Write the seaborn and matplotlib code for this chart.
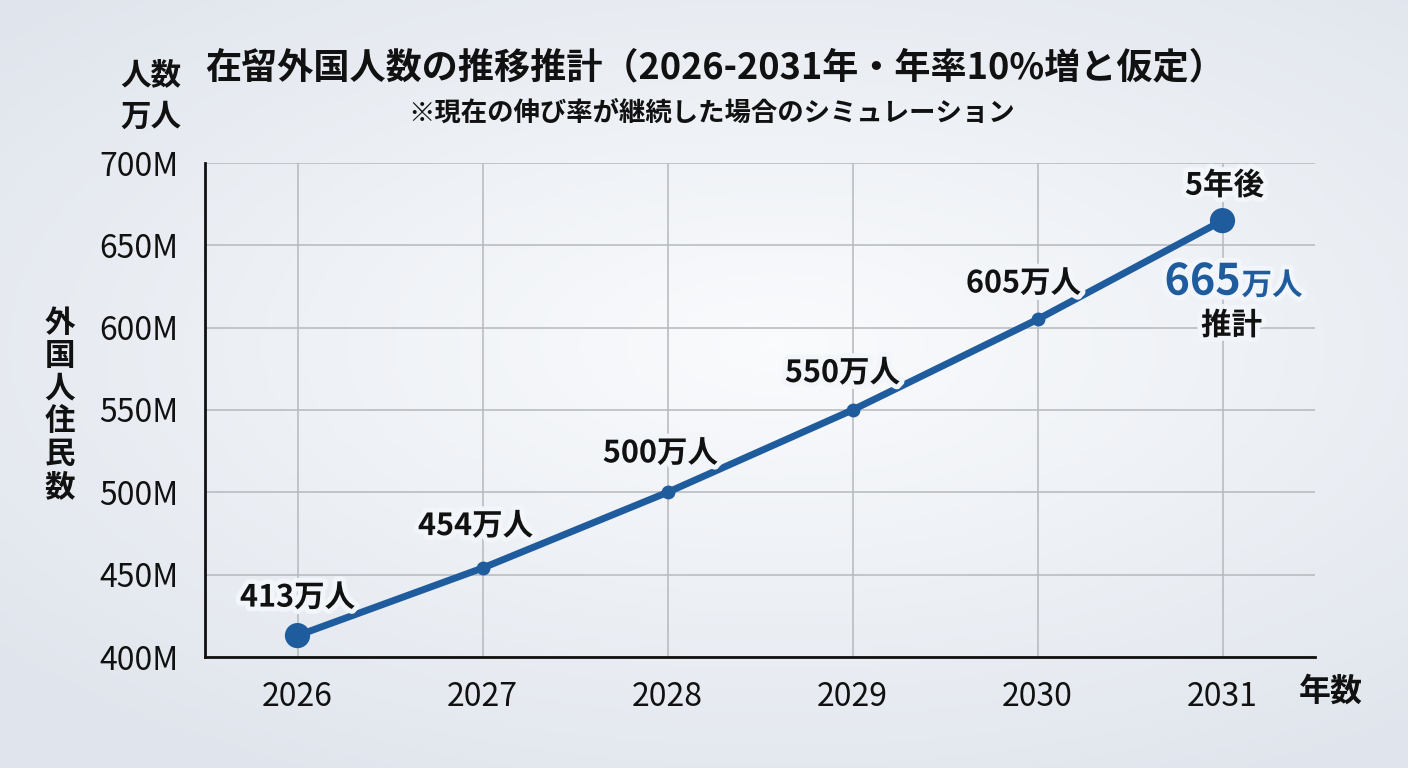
import numpy as np
import pandas as pd
import matplotlib
matplotlib.use("Agg")
import matplotlib.pyplot as plt
import matplotlib.patheffects as pe
import seaborn as sns

years = [2026, 2027, 2028, 2029, 2030, 2031]
values = [413, 454, 500, 550, 605, 665]
point_labels = ["413万人", "454万人", "500万人", "550万人", "605万人", ""]
y_ticks = [400, 450, 500, 550, 600, 650, 700]
y_tick_labels = ["400M", "450M", "500M", "550M", "600M", "650M", "700M"]

title = "在留外国人数の推移推計（2026-2031年・年率10%増と仮定）"
subtitle = "※現在の伸び率が継続した場合のシミュレーション"

sns.set_theme(style="white")
plt.rcParams['font.family'] = ['Noto Sans CJK JP', 'DejaVu Sans']

df = pd.DataFrame({"year": years, "value": values})
line_color = "#1f5c9e"
ink = "#111111"

fig = plt.figure(figsize=(14.08, 7.68), dpi=100)

# background gradient
bg = fig.add_axes([0, 0, 1, 1], zorder=-10)
yy, xx = np.mgrid[0:1:200j, 0:1:360j]
r = np.sqrt(((xx - 0.55) / 0.9) ** 2 + ((yy - 0.55) / 0.8) ** 2)
c_in = np.array([0.98, 0.985, 0.992])
c_out = np.array([0.88, 0.9, 0.93])
t = np.clip(r / 0.8, 0, 1)[..., None]
img = c_in * (1 - t) + c_out * t
bg.imshow(img, aspect='auto', extent=[0, 1, 0, 1], origin='lower')
bg.axis('off')

ax = fig.add_axes([205 / 1408, 1 - 657 / 768, (1315 - 205) / 1408, (657 - 163) / 768])
ax.set_facecolor("none")

sns.lineplot(data=df, x="year", y="value", ax=ax, color=line_color, linewidth=5,
             marker="o", markersize=10, markeredgewidth=0, zorder=3)
ends = df.iloc[[0, -1]]
sns.scatterplot(data=ends, x="year", y="value", ax=ax, color=line_color, s=330,
                edgecolor="none", zorder=4, legend=False)

ax.set_xlim(2025.5, 2031.5)
ax.set_ylim(400, 700)
ax.set_xticks(years)
ax.set_xticklabels([str(y) for y in years])
ax.set_yticks(y_ticks)
ax.set_yticklabels(y_tick_labels)
ax.tick_params(axis='both', labelsize=23, length=0, colors=ink)
ax.tick_params(axis='x', pad=17)
ax.tick_params(axis='y', pad=19)
ax.set_xlabel("")
ax.set_ylabel("")
ax.grid(True, color="#b5b8bc", linewidth=1.1)
for s in ["top", "right"]:
    ax.spines[s].set_visible(False)
for s in ["left", "bottom"]:
    ax.spines[s].set_color(ink)
    ax.spines[s].set_linewidth(2)

halo = [pe.withStroke(linewidth=7, foreground=(0.95, 0.96, 0.975))]
offsets = [(0, 38), (-7, 42), (-7, 39), (-10, 37), (-14, 36)]
for yv, v, lab, off in zip(years, values, point_labels, offsets):
    if lab:
        ax.annotate(lab, (yv, v), xytext=off, textcoords="offset pixels",
                    ha="center", va="center", fontsize=22, fontweight="bold",
                    color=ink, path_effects=halo, zorder=5)

ax.annotate("5年後", (years[-1], values[-1]), xytext=(2, 35), textcoords="offset pixels",
            ha="center", va="center", fontsize=22, fontweight="bold", color=ink,
            path_effects=halo, zorder=5)
ax.annotate("665", (years[-1], values[-1]), xytext=(18, -74), textcoords="offset pixels",
            ha="right", va="baseline", fontsize=31, fontweight="bold", color=line_color,
            path_effects=halo, zorder=5)
ax.annotate("万人", (years[-1], values[-1]), xytext=(19, -74), textcoords="offset pixels",
            ha="left", va="baseline", fontsize=22, fontweight="bold", color=line_color,
            path_effects=halo, zorder=5)
ax.annotate("推計", (years[-1], values[-1]), xytext=(9, -105), textcoords="offset pixels",
            ha="center", va="center", fontsize=22, fontweight="bold", color=ink,
            path_effects=halo, zorder=5)

fig.text(715 / 1408, 1 - 68 / 768, title, ha="center", va="center",
         fontsize=26, fontweight="bold", color=ink)
fig.text(712 / 1408, 1 - 113 / 768, subtitle, ha="center", va="center",
         fontsize=19, fontweight="bold", color=ink)
fig.text(181 / 1408, 1 - 75 / 768, "人数", ha="right", va="center",
         fontsize=22, fontweight="bold", color=ink)
fig.text(181 / 1408, 1 - 117 / 768, "万人", ha="right", va="center",
         fontsize=22, fontweight="bold", color=ink)
fig.text(60 / 1408, 1 - 405 / 768, "\n".join("外国人住民数"), ha="center", va="center",
         fontsize=22, fontweight="bold", color=ink, linespacing=1.03)
fig.text(1331 / 1408, 1 - 692 / 768, "年数", ha="center", va="center",
         fontsize=23, fontweight="bold", color=ink)

fig.savefig("out.png", dpi=100)
